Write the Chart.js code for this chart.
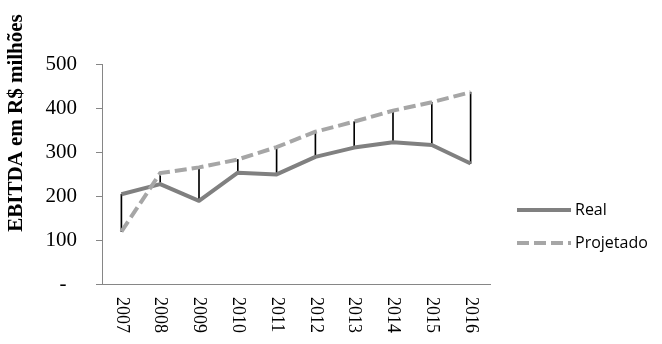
<!DOCTYPE html>
<html>
<head>
<meta charset="utf-8">
<script src="https://cdn.jsdelivr.net/npm/chart.js@4/dist/chart.umd.min.js"></script>
<style>
html,body{margin:0;padding:0;background:#fff;}
canvas{display:block;}
</style>
</head>
<body>
<canvas id="c" width="662" height="344"></canvas>
<script>
const years = ['2007','2008','2009','2010','2011','2012','2013','2014','2015','2016'];
const real = [204, 227, 189, 253, 249, 289, 310, 322, 316, 274];
const projetado = [119, 252, 265, 283, 311, 346, 369, 394, 413, 436];
const yTicks = [0, 100, 200, 300, 400, 500];
const yTitle = 'EBITDA em R$ milhões';
const seriesNames = ['Real', 'Projetado'];

const serif = "'Liberation Serif', 'Times New Roman', serif";
const sans = "'Open Sans', 'Noto Sans', sans-serif";
const axisColor = '#868686';

const customDraw = {
  id: 'customDraw',
  afterDraw(chart) {
    const ctx = chart.ctx;
    const xs = chart.scales.x;
    // x tick labels rotated clockwise
    ctx.save();
    ctx.fillStyle = '#000';
    ctx.font = '18px ' + serif;
    ctx.textAlign = 'left';
    ctx.textBaseline = 'middle';
    years.forEach((lab, i) => {
      const x = xs.getPixelForTick(i);
      ctx.save();
      ctx.translate(x, 297);
      ctx.rotate(Math.PI / 2);
      ctx.fillText(lab, 0, 0);
      ctx.restore();
    });
    ctx.restore();
    // y title
    ctx.save();
    ctx.fillStyle = '#000';
    ctx.font = 'bold 21px ' + serif;
    ctx.textAlign = 'center';
    ctx.textBaseline = 'middle';
    ctx.translate(17, 123);
    ctx.rotate(-Math.PI / 2);
    ctx.fillText(yTitle, 0, 0);
    ctx.restore();
    // legend
    const rows = [210, 243];
    [1, 2].forEach((di, k) => {
      const ds = chart.data.datasets[di];
      const y = rows[k];
      ctx.save();
      ctx.strokeStyle = ds.borderColor;
      ctx.lineWidth = ds.borderWidth;
      ctx.setLineDash(ds.borderDash || []);
      ctx.lineCap = 'butt';
      ctx.beginPath();
      ctx.moveTo(517, y);
      ctx.lineTo(571, y);
      ctx.stroke();
      ctx.restore();
      ctx.save();
      ctx.fillStyle = '#000';
      ctx.font = '16px ' + sans;
      ctx.textAlign = 'left';
      ctx.textBaseline = 'middle';
      ctx.fillText(ds.label, 575, y);
      ctx.restore();
    });
  }
};

new Chart(document.getElementById('c'), {
  data: {
    labels: years,
    datasets: [
      {
        type: 'bar',
        label: 'hilo',
        data: real.map((r, i) => [r, projetado[i]]),
        backgroundColor: '#000',
        borderWidth: 0,
        barThickness: 1,
        order: 3
      },
      {
        type: 'line',
        label: seriesNames[0],
        data: real,
        borderColor: '#808080',
        borderWidth: 4,
        pointRadius: 0,
        borderJoinStyle: 'round',
        tension: 0,
        order: 2
      },
      {
        type: 'line',
        label: seriesNames[1],
        data: projetado,
        borderColor: '#a6a6a6',
        borderWidth: 4,
        borderDash: [12, 5],
        pointRadius: 0,
        tension: 0,
        order: 1
      }
    ]
  },
  options: {
    responsive: false,
    animation: false,
    devicePixelRatio: 1,
    layout: { padding: { top: 64, right: 172, bottom: 0, left: 0 } },
    plugins: { legend: { display: false }, tooltip: { enabled: false } },
    scales: {
      x: {
        type: 'category',
        offset: true,
        grid: { display: false },
        border: { display: true, color: axisColor, width: 1 },
        ticks: { display: false },
        afterFit(s) { s.height = 60; }
      },
      y: {
        min: 0,
        max: 500,
        afterBuildTicks(s) { s.ticks = yTicks.map(v => ({ value: v })); },
        grid: { display: true, drawOnChartArea: false, drawTicks: true, tickLength: 6, color: axisColor },
        border: { display: true, color: axisColor, width: 1 },
        ticks: {
          padding: 19,
          color: '#000',
          font: { family: serif, size: 21 },
          callback: v => v === 0 ? '-  ' : String(v)
        },
        afterFit(s) { s.width = 102; }
      }
    }
  },
  plugins: [customDraw]
});
</script>
</body>
</html>
